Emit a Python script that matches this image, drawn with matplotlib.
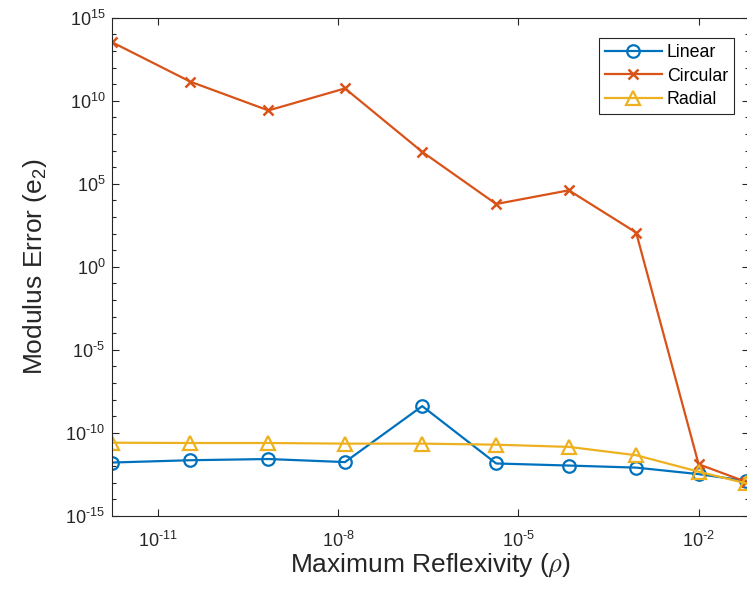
import numpy as np
import matplotlib
matplotlib.use('Agg')
import matplotlib.pyplot as plt
from matplotlib.ticker import FuncFormatter, NullFormatter

plt.rcParams['font.family'] = ['Liberation Sans', 'DejaVu Sans']
plt.rcParams['mathtext.fontset'] = 'cm'
plt.rcParams['axes.unicode_minus'] = False

# data
rho = [1.74e-12, 3.47e-11, 6.92e-10, 1.30e-8, 2.51e-7, 4.27e-6, 6.92e-5, 9.12e-4, 1.0e-2, 6.17e-2]
err_linear = [1.6e-12, 2.2e-12, 2.6e-12, 1.7e-12, 4.0e-9, 1.4e-12, 1.05e-12, 7.9e-13, 3.2e-13, 1.26e-13]
err_circular = [3.3e13, 1.4e11, 2.6e9, 5.5e10, 8.3e6, 6.0e3, 4.0e4, 115.0, 1.26e-12, 1.1e-13]
err_radial = [2.5e-11, 2.4e-11, 2.4e-11, 2.2e-11, 2.2e-11, 1.9e-11, 1.4e-11, 4.4e-12, 4.5e-13, 8.9e-14]

labels = ['Linear', 'Circular', 'Radial']
colors = ['#0072BD', '#D95319', '#EDB120']


def pow_label(v, pos):
    # MATLAB style 10^n with a short hyphen instead of a minus sign
    n = int(round(np.log10(v)))
    exp = ('\u2010%d' % -n) if n < 0 else '%d' % n
    return r'$\mathdefault{10^{%s}}$' % exp


fig = plt.figure(figsize=(7.47, 5.91), dpi=100)
ax = fig.add_axes([0.1503, 0.1274, 0.8525, 0.8426])

ax.loglog(rho, err_linear, '-o', color=colors[0], lw=1.6, ms=9, mfc='none', mew=1.6, label=labels[0])
ax.loglog(rho, err_circular, '-x', color=colors[1], lw=1.6, ms=6.5, mew=1.8, label=labels[1])
ax.loglog(rho, err_radial, '-^', color=colors[2], lw=1.6, ms=9.5, mfc='none', mew=1.6, label=labels[2])

ax.set_xlim(rho[0], 10 ** -1.16)
ax.set_ylim(1e-15, 1e15)

ax.set_xticks([1e-11, 1e-8, 1e-5, 1e-2])
ax.set_xticks([], minor=True)
ax.set_yticks([10.0 ** k for k in range(-15, 16, 5)])
ax.set_yticks([10.0 ** k for k in range(-15, 16)], minor=True)
ax.xaxis.set_major_formatter(FuncFormatter(pow_label))
ax.yaxis.set_major_formatter(FuncFormatter(pow_label))
ax.yaxis.set_minor_formatter(NullFormatter())

ax.tick_params(which='both', direction='in', top=True, right=True, colors='#262626', labelsize=13)
ax.tick_params(which='major', length=5, width=0.8)
ax.tick_params(which='minor', length=3, width=0.8)
ax.tick_params(axis='x', pad=11)
ax.tick_params(axis='y', pad=5)
for s in ax.spines.values():
    s.set_color('#262626')
    s.set_linewidth(0.8)

ax.set_xlabel(r'Maximum Reflexivity ($\rho$)', fontsize=19, color='#262626', labelpad=0)
ax.set_ylabel(r'Modulus Error (e$\mathdefault{_2}$)', fontsize=19, color='#262626', labelpad=12)

leg = ax.legend(loc='upper right', bbox_to_anchor=(0.977, 0.959), fontsize=12.8, handlelength=3.2,
                fancybox=False, framealpha=1, edgecolor='#262626', borderpad=0.35,
                labelspacing=0.35, handletextpad=0.3, borderaxespad=0)
leg.get_frame().set_linewidth(0.8)

fig.savefig('out.png', dpi=100)
